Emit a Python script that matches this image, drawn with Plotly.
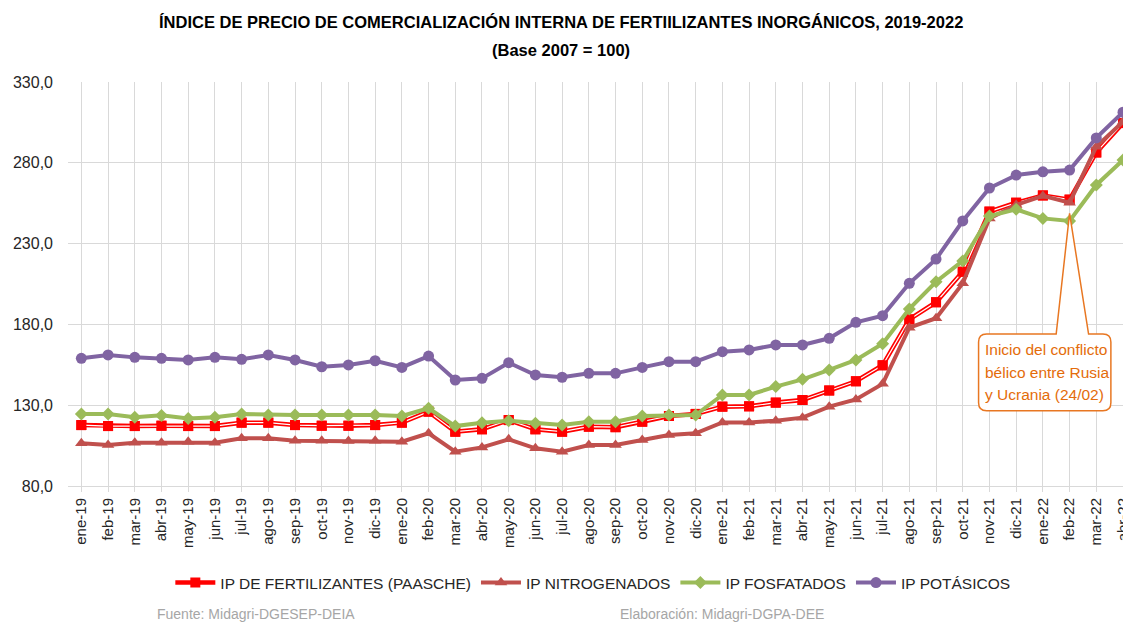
import plotly.graph_objects as go

meses = ["ene", "feb", "mar", "abr", "may", "jun", "jul", "ago", "sep", "oct", "nov", "dic"]
categorias = [f"{m}-{a}" for a in ["19", "20", "21"] for m in meses] + ["ene-22", "feb-22", "mar-22", "abr-22"]

ip_paasche = [117.7, 117.1, 117.1, 117.3, 117.1, 117.1, 119.2, 119.2, 117.7, 117.3, 117.3, 117.7,
              119.2, 126.0, 113.6, 115.1, 120.8, 115.1, 113.6, 116.7, 116.4, 119.8, 123.3, 124.6,
              129.1, 129.3, 131.6, 133.2, 139.1, 144.8, 154.7, 183.1, 193.7, 212.6, 249.8, 255.3,
              259.8, 257.2, 286.4, 304.6]
ip_nitrogenados = [106.4, 105.4, 106.8, 106.8, 107.4, 106.8, 109.5, 109.5, 108.0, 108.0, 107.8, 108.0,
                   107.4, 112.6, 101.2, 103.9, 108.9, 103.3, 101.2, 105.4, 105.4, 108.5, 111.6, 112.6,
                   119.3, 119.3, 120.4, 122.3, 129.1, 133.6, 143.2, 178.0, 183.8, 205.4, 245.6, 253.9,
                   259.5, 255.3, 290.0, 305.4]
ip_fosfatados = [124.6, 124.6, 122.5, 123.7, 121.7, 122.5, 124.6, 124.0, 124.0, 124.0, 124.0, 124.0,
                 123.3, 128.1, 117.1, 119.2, 120.4, 118.8, 117.7, 119.8, 119.8, 123.3, 123.9, 123.9,
                 136.3, 136.3, 141.5, 146.0, 151.8, 158.0, 168.0, 189.6, 206.4, 219.3, 247.1, 251.2,
                 245.6, 244.0, 266.3, 281.7]
ip_potasicos = [159.0, 161.1, 159.6, 159.0, 158.0, 159.6, 158.4, 161.1, 158.0, 153.8, 154.9, 157.5,
                153.4, 160.4, 145.6, 146.6, 156.3, 148.7, 147.3, 149.7, 149.7, 153.4, 156.9, 156.9,
                163.1, 164.2, 167.3, 167.3, 171.4, 181.3, 185.4, 205.4, 220.4, 244.0, 264.4, 272.4,
                274.4, 275.5, 295.4, 311.3]

nota_lineas = ["Inicio del conflicto", "bélico entre Rusia", "y Ucrania (24/02)"]

FONT = "Liberation Sans Narrow, Arial Narrow, Liberation Sans, sans-serif"
x = list(range(len(categorias)))

fig = go.Figure()

# Paasche: red line with white centre (double-line look)
fig.add_trace(go.Scatter(
    x=x, y=ip_paasche, name="IP DE FERTILIZANTES (PAASCHE)", mode="lines+markers",
    line=dict(color="#FF0000", width=4.5),
    marker=dict(symbol="square", size=10, color="#FF0000"),
    legendgroup="p"))
fig.add_trace(go.Scatter(
    x=x, y=ip_paasche, mode="lines", showlegend=False, hoverinfo="skip",
    line=dict(color="#FFFFFF", width=1.2), legendgroup="p"))
fig.add_trace(go.Scatter(
    x=x, y=ip_paasche, mode="markers", showlegend=False, hoverinfo="skip",
    marker=dict(symbol="square", size=10, color="#FF0000"), legendgroup="p"))

fig.add_trace(go.Scatter(
    x=x, y=ip_nitrogenados, name="IP NITROGENADOS", mode="lines+markers",
    line=dict(color="#C0504D", width=4),
    marker=dict(symbol="triangle-up", size=11, color="#C0504D")))
fig.add_trace(go.Scatter(
    x=x, y=ip_fosfatados, name="IP FOSFATADOS", mode="lines+markers",
    line=dict(color="#9BBB59", width=4),
    marker=dict(symbol="diamond", size=10, color="#9BBB59")))
fig.add_trace(go.Scatter(
    x=x, y=ip_potasicos, name="IP POTÁSICOS", mode="lines+markers",
    line=dict(color="#8064A2", width=4),
    marker=dict(symbol="circle", size=11, color="#8064A2")))

fig.update_layout(
    width=1123, height=622,
    margin=dict(l=68, r=0, t=82, b=136, autoexpand=False),
    paper_bgcolor="white", plot_bgcolor="white",
    font=dict(family=FONT, color="#262626"),
    separators=",.",
    showlegend=True,
    legend=dict(orientation="h", x=0.097, xanchor="left", y=-0.24, yanchor="middle",
                font=dict(size=15.5, color="#262626"), itemwidth=40, traceorder="normal"),
)

fig.update_xaxes(
    range=[-0.5, 39.0], tickmode="array", tickvals=x, ticktext=categorias,
    tickangle=-90, tickfont=dict(size=15, color="#262626"), ticklabeloverflow="allow",
    showgrid=True, gridcolor="#D9D9D9", gridwidth=1, tickson="boundaries",
    ticks="outside", ticklen=5, tickcolor="#D9D9D9",
    showline=True, linecolor="#D9D9D9", linewidth=1, zeroline=False, automargin=False,
)
fig.update_yaxes(
    range=[80, 330], dtick=50, tick0=80, tickformat=".1f",
    tickfont=dict(size=16, color="#262626"),
    showgrid=True, gridcolor="#D9D9D9", gridwidth=1, zeroline=False,
    ticks="", ticklabelstandoff=14, showline=False, automargin=False,
)

# Title
fig.add_annotation(xref="paper", yref="paper", x=0.467, y=(486 - 22) / 404, yanchor="middle",
                   text="<b>ÍNDICE DE PRECIO DE COMERCIALIZACIÓN INTERNA DE FERTIILIZANTES INORGÁNICOS, 2019-2022</b>",
                   showarrow=False, font=dict(size=16.5, color="#000000", family=FONT))
fig.add_annotation(xref="paper", yref="paper", x=0.467, y=(486 - 50) / 404, yanchor="middle",
                   text="<b>(Base 2007 = 100)</b>",
                   showarrow=False, font=dict(size=16.5, color="#000000", family=FONT))

# Callout (Russia-Ukraine conflict) anchored at feb-22
path = ("M 0,0 L 19,-120.7 L 33.3,-120.7 Q 41.3,-120.7 41.3,-128.7 L 41.3,-189.4 "
        "Q 41.3,-197.4 33.3,-197.4 L -83,-197.4 Q -91,-197.4 -91,-189.4 L -91,-128.7 "
        "Q -91,-120.7 -83,-120.7 L -13.4,-120.7 Z")
fig.add_shape(type="path", xref="x", yref="y", xsizemode="pixel", ysizemode="pixel",
              xanchor=37.0, yanchor=248.7, path=path,
              line=dict(color="#E87722", width=1.5), fillcolor="white", layer="above")
for texto, yv in zip(nota_lineas, [164.2, 150.0, 136.4]):
    fig.add_annotation(xref="x", yref="y", x=33.76, y=yv, xanchor="left", yanchor="middle",
                       text=texto, showarrow=False,
                       font=dict(size=15.5, color="#E46C0A", family=FONT))

# Footer
fig.add_annotation(xref="paper", yref="paper", x=0.0825, y=(486 - 614) / 404, xanchor="left", yanchor="middle",
                   text="Fuente: Midagri-DGESEP-DEIA", showarrow=False,
                   font=dict(size=14, color="#A6A6A6", family=FONT))
fig.add_annotation(xref="paper", yref="paper", x=0.521, y=(486 - 614) / 404, xanchor="left", yanchor="middle",
                   text="Elaboración: Midagri-DGPA-DEE", showarrow=False,
                   font=dict(size=14, color="#A6A6A6", family=FONT))

fig.write_html("out.html", config={"displayModeBar": False},
               post_script="document.body.style.margin='0';document.body.style.overflow='hidden';")
